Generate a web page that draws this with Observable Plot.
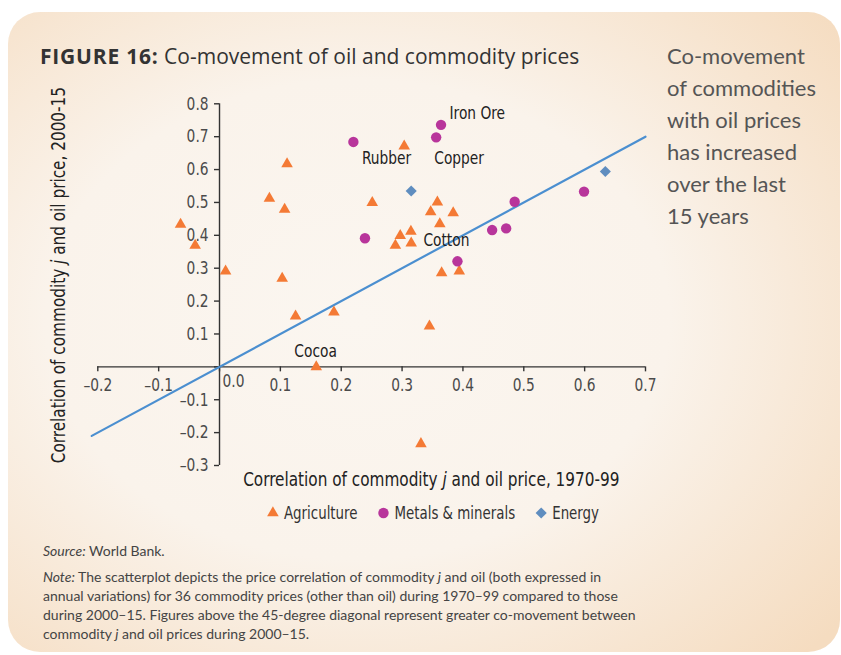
<!DOCTYPE html>
<html><head><meta charset="utf-8">
<script src="https://cdn.jsdelivr.net/npm/d3@7"></script>
<script src="https://cdn.jsdelivr.net/npm/@observablehq/plot@0.6"></script>
<style>
body{margin:0;background:#fff;}
#wrap{position:relative;width:841px;height:655px;overflow:hidden;font-family:"Open Sans",sans-serif;}
#bg{position:absolute;left:8px;top:12px;width:832px;height:640px;border-radius:32px;
 background:radial-gradient(ellipse 75% 75% at 42% 48%, #fbf6f0 0%, #faf3eb 50%, #f5dcc0 100%);}
#title{position:absolute;left:40px;top:42px;font-size:21px;color:#333;white-space:nowrap;font-family:"Open Sans",sans-serif;}
#title b{font-weight:700;letter-spacing:0.8px;}
#side{position:absolute;left:667px;top:40px;font-size:22px;line-height:32px;color:#555;font-family:Lato,sans-serif;}
#chart{position:absolute;left:0;top:0;}
#legend{position:absolute;left:0;top:500px;}
#foot{position:absolute;left:43px;top:541px;font-family:Lato,sans-serif;font-size:14px;line-height:19px;color:#444;}
</style></head>
<body><div id="wrap"><div id="bg"></div>
<div id="title"><b>FIGURE 16:</b> Co-movement of oil and commodity prices</div>
<div id="side">Co-movement<br>of commodities<br>with oil prices<br>has increased<br>over the last<br>15 years</div>
<div id="chart"></div>
<div id="legend"></div>
<div id="foot"><div style="margin-bottom:7px"><i>Source:</i> World Bank.</div>
<div><i>Note:</i> The scatterplot depicts the price correlation of commodity <i>j</i> and oil (both expressed in<br>annual variations) for 36 commodity prices (other than oil) during 1970–99 compared to those<br>during 2000–15. Figures above the 45-degree diagonal represent greater co-movement between<br>commodity <i>j</i> and oil prices during 2000–15.</div></div>
</div>
<script>
// ---- data ----
const groups = ["Agriculture", "Metals & minerals", "Energy"];
const colors = ["#f47a35", "#b8359b", "#5f8dbf"];
const agriX = [-0.064,-0.040,0.010,0.103,0.082,0.107,0.111,0.3035,0.251,0.358,0.347,0.384,0.362,0.3145,0.297,0.289,0.315,0.365,0.394,0.125,0.188,0.159,0.345,0.331];
const agriY = [0.433,0.369,0.291,0.269,0.512,0.479,0.617,0.671,0.499,0.501,0.471,0.468,0.435,0.412,0.399,0.369,0.376,0.286,0.291,0.154,0.166,0.0,0.124,-0.234];
const metalX = [0.220,0.364,0.356,0.599,0.485,0.448,0.471,0.239,0.391];
const metalY = [0.684,0.736,0.698,0.533,0.502,0.416,0.421,0.391,0.321];
const energyX = [0.315,0.634];
const energyY = [0.535,0.594];
const labelNames = ["Iron Ore","Rubber","Copper","Cotton","Cocoa"];
const labelX = [0.378,0.234,0.353,0.335,0.123];
const labelY = [0.772,0.635,0.635,0.385,0.046];
const xTicks = [-0.2,-0.1,0,0.1,0.2,0.3,0.4,0.5,0.6,0.7];
const xTickLabels = ["–0.2","–0.1","0.0","0.1","0.2","0.3","0.4","0.5","0.6","0.7"];
const yTicks = [-0.3,-0.2,-0.1,0,0.1,0.2,0.3,0.4,0.5,0.6,0.7,0.8];
const yTickLabels = ["–0.3","–0.2","–0.1","","0.1","0.2","0.3","0.4","0.5","0.6","0.7","0.8"];
const diagonal = [-0.21, 0.7];
const xTitle = "Correlation of commodity j and oil price, 1970-99";
const yTitle = "Correlation of commodity j and oil price, 2000-15";

const toRows = (xs, ys, g) => xs.map((x, i) => ({x, y: ys[i], group: g}));
const agri = toRows(agriX, agriY, groups[0]);
const metal = toRows(metalX, metalY, groups[1]);
const energy = toRows(energyX, energyY, groups[2]);
const labels = labelNames.map((t, i) => ({t, x: labelX[i], y: labelY[i]}));
const xt = xTicks.map((v, i) => ({v, t: xTickLabels[i]}));
const yt = yTicks.map((v, i) => ({v, t: yTickLabels[i]}));

const FONT = '"Liberation Sans Narrow", "DejaVu Sans Condensed", "DejaVu Sans", sans-serif';
const axisColor = "#333";
const CONDENSE = 0.85;

const plot = Plot.plot({
  width: 660, height: 530,
  marginLeft: 97.3, marginRight: 15, marginTop: 103.3, marginBottom: 65,
  x: {domain: [-0.2, 0.7], axis: null},
  y: {domain: [-0.3, 0.8], axis: null},
  style: {background: "transparent", overflow: "visible", fontFamily: FONT},
  marks: [
    Plot.ruleY([0], {x1: -0.2, x2: 0.7, stroke: axisColor, strokeWidth: 1.4}),
    Plot.ruleX([0], {y1: -0.3, y2: 0.8, stroke: axisColor, strokeWidth: 1.4}),
    Plot.ruleX(xTicks, {x: d => d, y1: () => 0, y2: () => 0, insetTop: 0, insetBottom: -5, stroke: axisColor, strokeWidth: 1.4}),
    Plot.ruleY(yTicks, {y: d => d, x1: () => 0, x2: () => 0, insetLeft: -5, insetRight: 0, stroke: axisColor, strokeWidth: 1.4}),
    Plot.text(xt.filter(d => d.v !== 0), {x: "v", y: () => 0, text: "t", dy: 18, fontSize: 18, fill: "#4a4a4a"}),
    Plot.text(xt.filter(d => d.v === 0), {x: "v", y: () => 0, text: "t", dx: 14, dy: 14, fontSize: 18, fill: "#4a4a4a"}),
    Plot.text(yt, {x: () => 0, y: "v", text: "t", dx: -11, textAnchor: "end", fontSize: 18, fill: "#4a4a4a"}),
    Plot.line(diagonal, {x: d => d, y: d => d, stroke: "#4b8fd0", strokeWidth: 2.2}),
    Plot.dot(agri, {x: "x", y: "y", symbol: "triangle", r: 4.3, fill: colors[0]}),
    Plot.dot(metal, {x: "x", y: "y", symbol: "circle", r: 5.2, fill: colors[1]}),
    Plot.dot(energy, {x: "x", y: "y", symbol: "diamond2", r: 5, fill: colors[2]}),
    Plot.text(labels, {x: "x", y: "y", text: "t", textAnchor: "start", fontSize: 18, fill: "#222"}),
    Plot.text([xTitle], {x: () => 0.348, y: () => -0.344, text: d => d, fontSize: 20, fill: "#222"}),
    Plot.text([yTitle], {x: () => -0.265, y: () => 0.279, text: d => d, rotate: -90, fontSize: 20, fill: "#222"})
  ]
});
// italicise the "j" in the axis titles
d3.select(plot).selectAll("text").each(function() {
  const s = this.textContent;
  if (s.includes("commodity j")) {
    const [a, b] = s.split(" j ");
    const sel = d3.select(this);
    sel.text(null);
    sel.append("tspan").text(a + " ");
    sel.append("tspan").attr("font-style", "italic").text("j");
    sel.append("tspan").text(" " + b);
  }
});
document.getElementById("chart").appendChild(plot);

// narrow the glyphs to mimic the condensed face of the original
function squeeze(el, k) {
  const L = el.getComputedTextLength();
  if (L > 0) {
    el.setAttribute("textLength", (L * k).toFixed(1));
    el.setAttribute("lengthAdjust", "spacingAndGlyphs");
  }
}
function squeezeByScale(el, k) {
  const tr = el.getAttribute("transform") || "";
  const x = +el.getAttribute("x") || 0, y = +el.getAttribute("y") || 0;
  el.setAttribute("transform", `${tr} translate(${x},${y}) scale(${k},1) translate(${-x},${-y})`);
}
plot.querySelectorAll("text").forEach(t => {
  if (t.querySelector("tspan")) squeezeByScale(t, CONDENSE);
  else squeeze(t, CONDENSE);
});

// legend (below the chart)
const shapes = [d3.symbolTriangle, d3.symbolCircle, d3.symbolDiamond2];
const sizes = [Math.PI*4.3*4.3, Math.PI*5.2*5.2, Math.PI*5*5];
const lsvg = d3.select("#legend").append("svg").attr("width", 841).attr("height", 28)
  .style("font-family", FONT).style("overflow", "visible");
const lg = lsvg.append("g");
const GAP = 21;
let cursor = 0;
groups.forEach((g, i) => {
  lg.append("path").attr("transform", `translate(${cursor + 5},13)`)
    .attr("d", d3.symbol(shapes[i], sizes[i])()).attr("fill", colors[i]);
  const t = lg.append("text").attr("x", cursor + 16).attr("y", 13).attr("dy", "0.35em")
    .attr("font-size", 17.5).attr("fill", "#333").text(g);
  const L = t.node().getComputedTextLength() * CONDENSE;
  t.attr("textLength", L.toFixed(1)).attr("lengthAdjust", "spacingAndGlyphs");
  cursor += 16 + L + GAP;
});
const total = cursor - GAP;
lg.attr("transform", `translate(${(433.5 - total / 2).toFixed(1)},0)`);
</script>
</body></html>
